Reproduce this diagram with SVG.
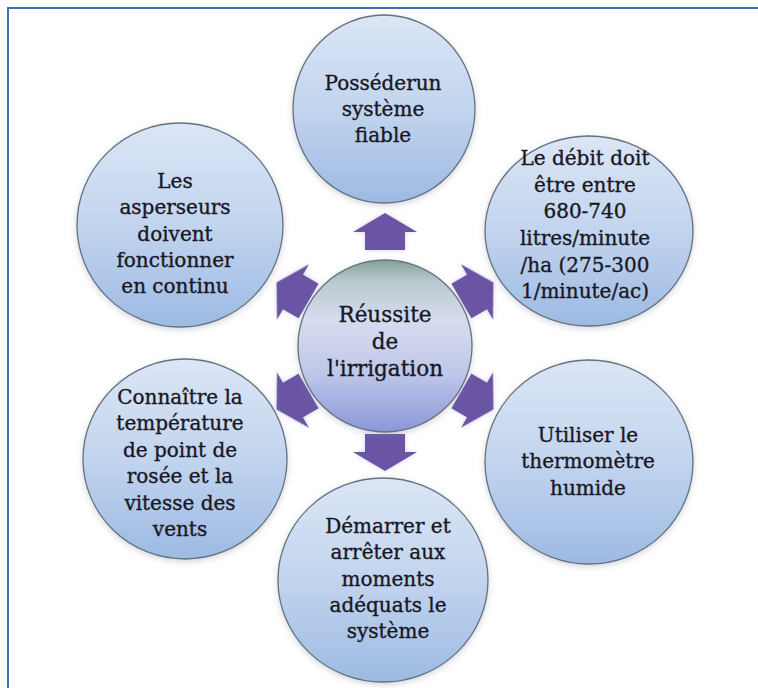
<svg xmlns="http://www.w3.org/2000/svg" width="758" height="688" viewBox="0 0 758 688">
<style>
.node ellipse{fill:url(#gOuter);stroke:#66727f;stroke-width:1.3;filter:url(#shadow)}
.node text{font-family:"DejaVu Serif","Liberation Serif",serif;font-size:20px;fill:#181824;stroke:#181824;stroke-width:0.35;text-anchor:middle}
#center ellipse{fill:url(#gCenter)}
#center text{font-size:21.5px}
.arrow{fill:#6a55a5;filter:url(#soft)}
.frame{stroke:#3f6fae;stroke-width:2;fill:none}
</style>
<defs>
<linearGradient id="gOuter" x1="0" y1="0" x2="0" y2="1">
<stop offset="0" stop-color="#dbe6f5"/>
<stop offset="0.5" stop-color="#c2d4ee"/>
<stop offset="1" stop-color="#9dbae3"/>
</linearGradient>
<linearGradient id="gCenter" x1="0" y1="0" x2="0" y2="1">
<stop offset="0" stop-color="#83a096"/>
<stop offset="0.12" stop-color="#b9c8cf"/>
<stop offset="0.35" stop-color="#d6dcef"/>
<stop offset="0.65" stop-color="#c0c8ea"/>
<stop offset="1" stop-color="#8a97d6"/>
</linearGradient>
<filter id="shadow" x="-20%" y="-20%" width="140%" height="140%">
<feDropShadow dx="0" dy="2" stdDeviation="3" flood-color="#7a8594" flood-opacity="0.35"/>
</filter>
<filter id="soft" x="-30%" y="-30%" width="160%" height="160%">
<feGaussianBlur in="SourceAlpha" stdDeviation="2.5" result="b"/>
<feFlood flood-color="#b9b0d6" flood-opacity="0.6"/>
<feComposite in2="b" operator="in" result="glow"/>
<feGaussianBlur in="SourceGraphic" stdDeviation="0.6" result="s"/>
<feMerge><feMergeNode in="glow"/><feMergeNode in="s"/></feMerge>
</filter>
<path id="arr" d="M0,-19 L32,0 L20,0 L20,18 L-20,18 L-20,0 L-32,0 Z"/>
</defs>
<rect width="758" height="688" fill="#ffffff"/>
<path class="frame" d="M8,688 L8,8 L758,8"/>

<g id="connectors">
<use href="#arr" class="arrow" transform="translate(385,232)"/>
<use href="#arr" class="arrow" transform="translate(477,292) rotate(60)"/>
<use href="#arr" class="arrow" transform="translate(477,400) rotate(120)"/>
<use href="#arr" class="arrow" transform="translate(385,452) rotate(180)"/>
<use href="#arr" class="arrow" transform="translate(293,400) rotate(240)"/>
<use href="#arr" class="arrow" transform="translate(293,292) rotate(300)"/>
</g>

<g id="center" class="node">
<ellipse cx="385" cy="346" rx="87" ry="86"/>
<text x="385" y="322">Réussite</text>
<text x="385" y="349">de</text>
<text x="385" y="376">l'irrigation</text>
</g>

<g id="n-top" class="node">
<ellipse cx="384" cy="109" rx="91" ry="94"/>
<text x="383" y="90">Posséderun</text>
<text x="383" y="116">système</text>
<text x="383" y="142">fiable</text>
</g>

<g id="n-topright" class="node">
<ellipse cx="589" cy="231" rx="104" ry="95"/>
<text x="585" y="165">Le débit doit</text>
<text x="585" y="192">être entre</text>
<text x="585" y="218">680-740</text>
<text x="585" y="245">litres/minute</text>
<text x="585" y="272">/ha (275-300</text>
<text x="585" y="298">1/minute/ac)</text>
</g>

<g id="n-bottomright" class="node">
<ellipse cx="589" cy="462" rx="104" ry="102"/>
<text x="588" y="442">Utiliser le</text>
<text x="588" y="468">thermomètre</text>
<text x="588" y="495">humide</text>
</g>

<g id="n-bottom" class="node">
<ellipse cx="383" cy="580" rx="105" ry="102"/>
<text x="388" y="533">Démarrer et</text>
<text x="388" y="559">arrêter aux</text>
<text x="388" y="586">moments</text>
<text x="388" y="612">adéquats le</text>
<text x="388" y="638">système</text>
</g>

<g id="n-bottomleft" class="node">
<ellipse cx="185" cy="459" rx="102" ry="100"/>
<text x="180" y="404">Connaître la</text>
<text x="180" y="430">température</text>
<text x="180" y="457">de point de</text>
<text x="180" y="483">rosée et la</text>
<text x="180" y="510">vitesse des</text>
<text x="180" y="536">vents</text>
</g>

<g id="n-topleft" class="node">
<ellipse cx="180" cy="225" rx="103" ry="102"/>
<text x="175" y="188">Les</text>
<text x="175" y="214">asperseurs</text>
<text x="175" y="241">doivent</text>
<text x="175" y="267">fonctionner</text>
<text x="175" y="293">en continu</text>
</g>
</svg>
